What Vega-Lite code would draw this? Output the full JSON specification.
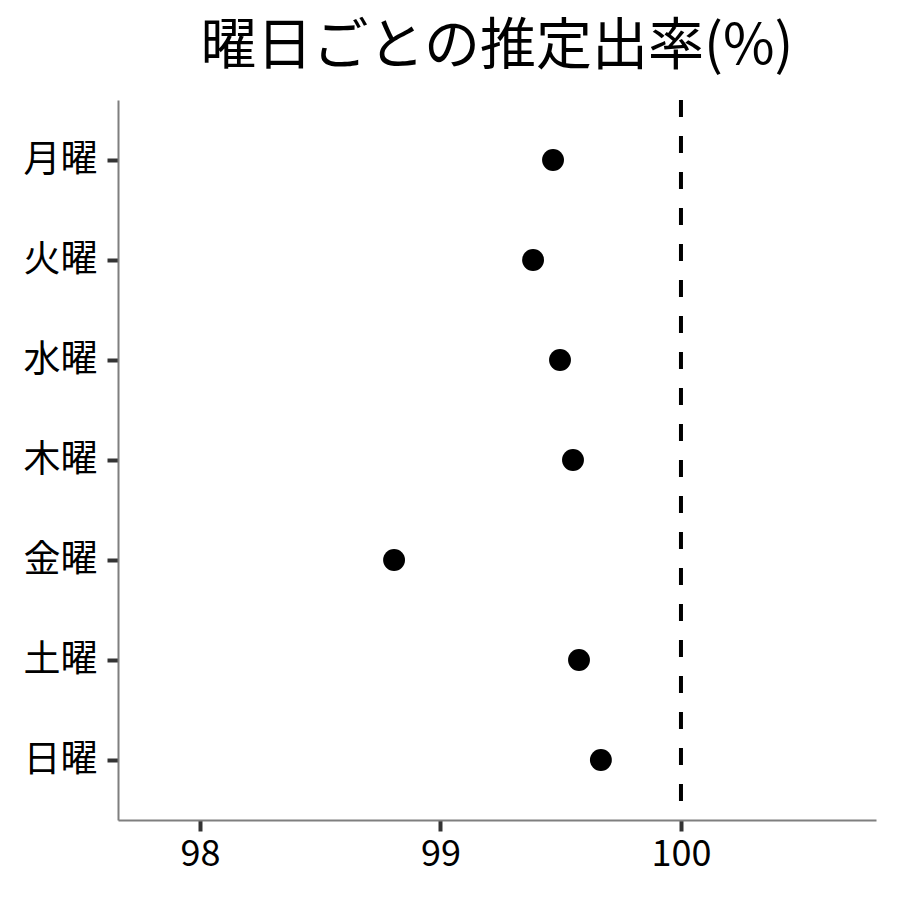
{
  "$schema": "https://vega.github.io/schema/vega-lite/v6.json",
  "autosize": "none",
  "width": 758,
  "height": 720,
  "padding": {"left": 118, "top": 100, "right": 24, "bottom": 80},
  "background": "white",
  "title": {
    "text": "曜日ごとの推定出率(%)",
    "fontSize": 56,
    "fontWeight": "normal",
    "font": "Noto Sans CJK JP",
    "color": "black",
    "anchor": "middle",
    "offset": 22
  },
  "layer": [
    {
      "data": {
        "values": [
          {"day": "月曜", "rate": 99.468},
          {"day": "火曜", "rate": 99.385},
          {"day": "水曜", "rate": 99.497},
          {"day": "木曜", "rate": 99.551},
          {"day": "金曜", "rate": 98.807},
          {"day": "土曜", "rate": 99.576},
          {"day": "日曜", "rate": 99.667}
        ]
      },
      "mark": {"type": "circle", "size": 480, "color": "black", "opacity": 1},
      "encoding": {
        "x": {
          "field": "rate",
          "type": "quantitative",
          "scale": {"domain": [97.659, 100.811], "zero": false, "nice": false},
          "axis": {"values": [98, 99, 100], "format": "d", "title": null, "labelPadding": 6, "labelFontSize": 36}
        },
        "y": {
          "field": "day",
          "type": "nominal",
          "sort": ["月曜", "火曜", "水曜", "木曜", "金曜", "土曜", "日曜"],
          "scale": {"type": "point", "padding": 0.6},
          "axis": {"title": null, "labelPadding": 10, "labelFontSize": 37}
        }
      }
    },
    {
      "data": {"values": [{"ref": 100}]},
      "mark": {"type": "rule", "color": "black", "strokeWidth": 4, "strokeDash": [17, 19]},
      "encoding": {
        "x": {"field": "ref", "type": "quantitative"}
      }
    }
  ],
  "config": {
    "view": {"stroke": null},
    "font": "Noto Sans CJK JP",
    "axis": {
      "grid": false,
      "domainColor": "#7f7f7f",
      "domainWidth": 2,
      "tickColor": "#333333",
      "tickWidth": 4,
      "tickSize": 11,
      "labelFont": "Noto Sans CJK JP",
      "labelColor": "black"
    }
  }
}
